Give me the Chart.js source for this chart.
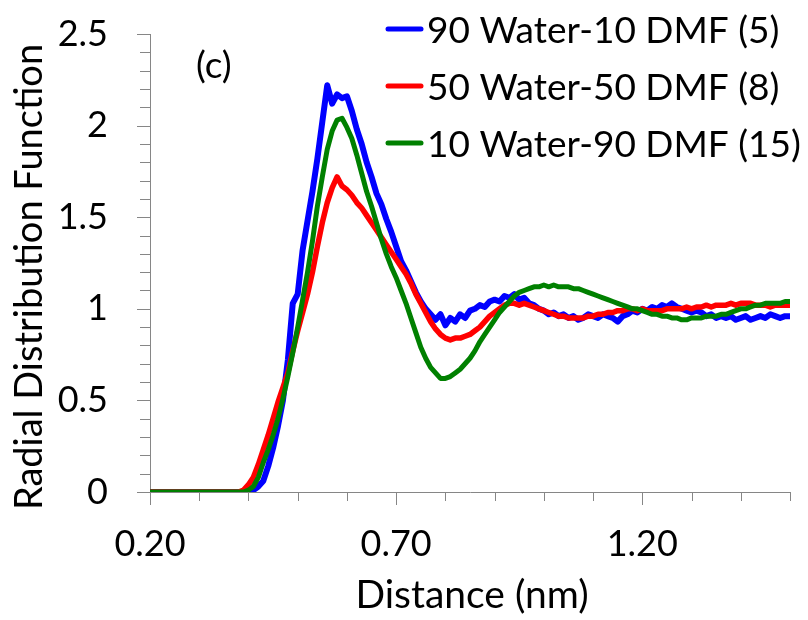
<!DOCTYPE html>
<html>
<head>
<meta charset="utf-8">
<script src="https://cdn.jsdelivr.net/npm/chart.js@4.4.1/dist/chart.umd.min.js"></script>
<style>
  html, body { margin: 0; padding: 0; background: #fff; }
</style>
</head>
<body>
<canvas id="rdf" width="808" height="620"></canvas>
<script>
// distance (nm)
const distance = [0.20,
  0.38, 0.39, 0.40, 0.41, 0.42, 0.43, 0.44, 0.45, 0.46, 0.47,
  0.48, 0.49, 0.50, 0.51, 0.52, 0.53, 0.54, 0.55, 0.56, 0.57,
  0.58, 0.59, 0.60, 0.61, 0.62, 0.63, 0.64, 0.65, 0.66, 0.67,
  0.68, 0.69, 0.70, 0.71, 0.72, 0.73, 0.74, 0.75, 0.76, 0.77,
  0.78, 0.79, 0.80, 0.81, 0.82, 0.83, 0.84, 0.85, 0.86, 0.87,
  0.88, 0.89, 0.90, 0.91, 0.92, 0.93, 0.94, 0.95, 0.96, 0.97,
  0.98, 0.99, 1.00, 1.01, 1.02, 1.03, 1.04, 1.05, 1.06, 1.07,
  1.08, 1.09, 1.10, 1.11, 1.12, 1.13, 1.14, 1.15, 1.16, 1.17,
  1.18, 1.19, 1.20, 1.21, 1.22, 1.23, 1.24, 1.25, 1.26, 1.27,
  1.28, 1.29, 1.30, 1.31, 1.32, 1.33, 1.34, 1.35, 1.36, 1.37,
  1.38, 1.39, 1.40, 1.41, 1.42, 1.43, 1.44, 1.45, 1.46, 1.47,
  1.48, 1.49, 1.50];

const rdf90Water = [0,
  0, 0, 0, 0.01, 0.03, 0.06, 0.14, 0.24, 0.36, 0.50,
  0.72, 1.03, 1.08, 1.32, 1.48, 1.64, 1.82, 2.02, 2.22, 2.12,
  2.17, 2.15, 2.16, 2.08, 1.98, 1.90, 1.80, 1.72, 1.63, 1.57,
  1.49, 1.42, 1.34, 1.26, 1.21, 1.15, 1.09, 1.04, 1.00, 0.97,
  0.94, 0.97, 0.91, 0.95, 0.93, 0.97, 0.95, 0.99, 1.00, 1.02,
  1.01, 1.04, 1.05, 1.04, 1.07, 1.06, 1.08, 1.05, 1.06, 1.03,
  1.02, 1.00, 0.99, 0.97, 0.98, 0.96, 0.97, 0.95, 0.96, 0.94,
  0.95, 0.97, 0.96, 0.95, 0.97, 0.96, 0.95, 0.93, 0.96, 0.97,
  0.99, 0.98, 1.00, 0.99, 1.01, 1.00, 1.02, 1.01, 1.03, 1.01,
  1.00, 0.99, 0.98, 0.99, 0.98, 0.96, 0.97, 0.95, 0.96, 0.95,
  0.96, 0.94, 0.95, 0.96, 0.94, 0.95, 0.96, 0.95, 0.97, 0.96,
  0.95, 0.96, 0.96];

const rdf50Water = [0,
  0, 0.01, 0.04, 0.08, 0.15, 0.23, 0.31, 0.40, 0.49, 0.57,
  0.65, 0.77, 0.88, 0.98, 1.08, 1.20, 1.34, 1.47, 1.58, 1.66,
  1.72, 1.67, 1.65, 1.62, 1.58, 1.55, 1.51, 1.47, 1.43, 1.39,
  1.35, 1.31, 1.27, 1.23, 1.19, 1.14, 1.08, 1.03, 0.98, 0.93,
  0.89, 0.86, 0.84, 0.83, 0.84, 0.84, 0.85, 0.86, 0.88, 0.90,
  0.93, 0.96, 0.98, 1.00, 1.02, 1.03, 1.03, 1.02, 1.03, 1.02,
  1.01, 1.00, 0.99, 0.98, 0.97, 0.96, 0.96, 0.95, 0.95, 0.95,
  0.95, 0.96, 0.96, 0.97, 0.97, 0.98, 0.98, 0.99, 0.99, 1.00,
  1.00, 0.99, 1.00, 0.99, 0.99, 0.99, 0.99, 1.00, 1.00, 1.00,
  1.00, 1.01, 1.00, 1.01, 1.01, 1.02, 1.01, 1.02, 1.02, 1.02,
  1.03, 1.02, 1.03, 1.03, 1.03, 1.02, 1.02, 1.02, 1.01, 1.02,
  1.02, 1.02, 1.02];

const rdf10Water = [0,
  0, 0, 0.01, 0.03, 0.08, 0.16, 0.23, 0.31, 0.40, 0.51,
  0.63, 0.76, 0.90, 1.05, 1.20, 1.37, 1.56, 1.72, 1.87, 1.97,
  2.03, 2.04, 1.99, 1.93, 1.84, 1.74, 1.64, 1.56, 1.47, 1.38,
  1.30, 1.23, 1.17, 1.10, 1.03, 0.95, 0.87, 0.79, 0.73, 0.68,
  0.65, 0.62, 0.62, 0.63, 0.65, 0.67, 0.70, 0.73, 0.77, 0.82,
  0.86, 0.90, 0.94, 0.98, 1.01, 1.04, 1.07, 1.09, 1.10, 1.11,
  1.12, 1.12, 1.13, 1.12, 1.13, 1.12, 1.12, 1.12, 1.11, 1.11,
  1.10, 1.09, 1.08, 1.07, 1.06, 1.05, 1.04, 1.03, 1.02, 1.01,
  1.00, 1.00, 0.99, 0.98, 0.97, 0.97, 0.96, 0.96, 0.95, 0.95,
  0.94, 0.94, 0.95, 0.95, 0.95, 0.96, 0.96, 0.96, 0.97, 0.97,
  0.98, 0.99, 1.00, 1.00, 1.01, 1.02, 1.02, 1.03, 1.03, 1.03,
  1.03, 1.04, 1.04];

const seriesLabels = ['90 Water-10 DMF (5)', '50 Water-50 DMF (8)', '10 Water-90 DMF (15)'];
const seriesColors = ['#0000FF', '#FF0000', '#008000'];
const seriesWidths = [6, 5.5, 5];

const xLabelTicks = [0.20, 0.70, 1.20];
const xMinorTicks = [0.2, 0.3, 0.4, 0.5, 0.6, 0.7, 0.8, 0.9, 1.0, 1.1, 1.2, 1.3, 1.4, 1.5];
const yMajorTicks = [0, 0.5, 1, 1.5, 2, 2.5];
const yMinorTicks = [0, 0.1, 0.2, 0.3, 0.4, 0.5, 0.6, 0.7, 0.8, 0.9, 1, 1.1, 1.2, 1.3, 1.4,
  1.5, 1.6, 1.7, 1.8, 1.9, 2, 2.1, 2.2, 2.3, 2.4, 2.5];

const FONT = 'Lato, "Open Sans", sans-serif';
const axisGray = '#868686';

function toPoints(ys) {
  return ys.map((v, i) => ({ x: distance[i], y: v }));
}

// ticks, axis titles, legend and panel letter
const decorations = {
  id: 'decorations',
  afterDraw(chart) {
    const ctx = chart.ctx;
    const xs = chart.scales.x, ys = chart.scales.y;
    const area = chart.chartArea;
    ctx.save();
    ctx.strokeStyle = axisGray;
    ctx.lineWidth = 1;
    ctx.beginPath();
    xMinorTicks.forEach(v => {
      const px = Math.round(xs.getPixelForValue(v)) + 0.5;
      const len = xLabelTicks.some(m => Math.abs(m - v) < 1e-6) ? 13 : 9;
      ctx.moveTo(px, area.bottom);
      ctx.lineTo(px, area.bottom + len);
    });
    yMinorTicks.forEach(v => {
      const py = Math.round(ys.getPixelForValue(v)) + 0.5;
      const len = yMajorTicks.includes(v) ? 13 : 10;
      ctx.moveTo(area.left - len, py);
      ctx.lineTo(area.left, py);
    });
    ctx.stroke();

    ctx.fillStyle = '#000';
    ctx.textBaseline = 'alphabetic';

    // x title
    ctx.font = '39px ' + FONT;
    ctx.textAlign = 'center';
    ctx.fillText('Distance (nm)', 472, 608);

    // y title
    ctx.save();
    ctx.font = '38px ' + FONT;
    ctx.translate(42, 277);
    ctx.rotate(-Math.PI / 2);
    ctx.fillText('Radial Distribution Function', 0, 0);
    ctx.restore();

    // panel letter
    ctx.font = '37px ' + FONT;
    ctx.textAlign = 'left';
    ctx.fillText('(c)', 196, 78);

    // legend
    const rows = [29, 86, 143];
    chart.data.datasets.forEach((ds, i) => {
      ctx.strokeStyle = ds.borderColor;
      ctx.lineWidth = 5;
      ctx.lineCap = 'round';
      ctx.beginPath();
      ctx.moveTo(388, rows[i]);
      ctx.lineTo(421, rows[i]);
      ctx.stroke();
      ctx.fillText(ds.label, 427, rows[i] + 14);
    });
    ctx.restore();
  }
};

new Chart(document.getElementById('rdf'), {
  type: 'line',
  data: {
    datasets: seriesLabels.map((lab, i) => ({
      label: lab,
      data: toPoints([rdf90Water, rdf50Water, rdf10Water][i]),
      borderColor: seriesColors[i],
      backgroundColor: seriesColors[i],
      borderWidth: seriesWidths[i],
      pointRadius: 0,
      tension: 0,
      borderJoinStyle: 'round',
      borderCapStyle: 'round',
      order: 3 - i
    }))
  },
  options: {
    responsive: false,
    animation: false,
    devicePixelRatio: 1,
    layout: { padding: { top: 34, right: 18, left: 0, bottom: 0 } },
    plugins: { legend: { display: false }, tooltip: { enabled: false } },
    scales: {
      x: {
        type: 'linear',
        min: 0.2,
        max: 1.5,
        grid: { display: false, drawTicks: false },
        border: { display: true, color: axisGray, width: 1 },
        afterBuildTicks: s => { s.ticks = xLabelTicks.map(v => ({ value: v })); },
        afterFit: s => { s.height = 128; },
        ticks: {
          padding: 31,
          maxRotation: 0,
          color: '#000',
          font: { family: FONT, size: 36 },
          callback: v => Number(v).toFixed(2)
        }
      },
      y: {
        min: 0,
        max: 2.5,
        grid: { display: false, drawTicks: false },
        border: { display: true, color: axisGray, width: 1 },
        afterFit: s => { s.width = 150; s.paddingTop = 0; s.paddingBottom = 0; },
        ticks: {
          stepSize: 0.5,
          padding: 42,
          color: '#000',
          font: { family: FONT, size: 36 },
          callback: v => String(v)
        }
      }
    }
  },
  plugins: [decorations]
});
</script>
</body>
</html>
